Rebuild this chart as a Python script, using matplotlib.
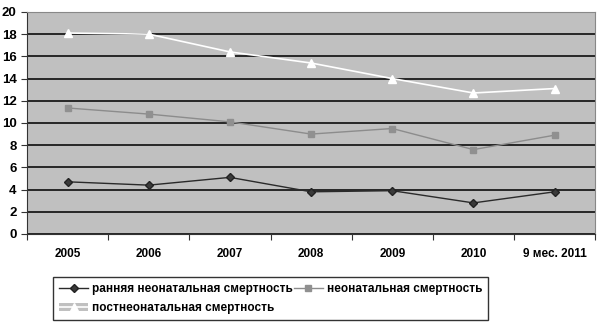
import matplotlib
matplotlib.use("Agg")
import matplotlib.pyplot as plt
from matplotlib.patches import Patch
from matplotlib.lines import Line2D
from matplotlib.legend_handler import HandlerTuple

categories = ["2005", "2006", "2007", "2008", "2009", "2010", "9 мес. 2011"]
early_neonatal = [4.7, 4.4, 5.1, 3.8, 3.9, 2.8, 3.8]
neonatal = [11.35, 10.8, 10.1, 9.0, 9.5, 7.6, 8.9]
postneonatal = [18.1, 18.0, 16.4, 15.4, 14.0, 12.7, 13.1]
yticks = [0, 2, 4, 6, 8, 10, 12, 14, 16, 18, 20]

plt.rcParams['font.family'] = ['Liberation Sans', 'DejaVu Sans']

fig = plt.figure(figsize=(6.0, 3.28), dpi=100)
ax = fig.add_axes([0.045, 0.2866, 0.947, 0.677])
bg = "#c0c0c0"
ax.set_facecolor(bg)

x = list(range(len(categories)))
l1, = ax.plot(x, early_neonatal, color="#2a2a2a", lw=1.0, marker="D", ms=4.5,
              mfc="#3a3a3a", mec="#222222", label="ранняя неонатальная смертность")
l2, = ax.plot(x, neonatal, color="#8c8c8c", lw=1.0, marker="s", ms=5,
              mfc="#909090", mec="#909090", label="неонатальная смертность")
l3, = ax.plot(x, postneonatal, color="white", lw=1.2, marker="^", ms=6,
              mfc="white", mec="white", label="постнеонатальная смертность")

ax.set_xlim(-0.5, len(categories) - 0.5)
ax.set_ylim(0, 20)
ax.set_yticks(yticks)
ax.yaxis.grid(True, color="#1a1a1a", lw=1.3)
ax.set_axisbelow(True)
ax.set_xticks([i - 0.5 for i in range(len(categories) + 1)], minor=False)
ax.set_xticklabels([])
ax.set_xticks(x, minor=True)
ax.set_xticklabels(categories, minor=True, fontsize=8.5, fontweight="bold")
ax.tick_params(axis="x", which="minor", length=0, pad=10)
ax.tick_params(axis="x", which="major", length=4, direction="out", color="#333333")
ax.tick_params(axis="y", length=4, labelsize=9.5, color="#333333")
for lab in ax.get_yticklabels():
    lab.set_fontweight("bold")
for s in ["top", "right"]:
    ax.spines[s].set_color("#888888")
ax.spines["left"].set_color("#333333")
ax.spines["bottom"].set_color("#333333")

h3 = (Patch(facecolor=bg, edgecolor="none"),
      Line2D([], [], color="white", lw=1.2, marker="^", ms=6, mfc="white", mec="white"))
leg = fig.legend([l1, h3, l2],
                 [l1.get_label(), l3.get_label(), l2.get_label()],
                 handler_map={tuple: HandlerTuple(ndivide=1)},
                 ncol=2, loc="upper left",
                 bbox_to_anchor=(53 / 600, 1 - 327 / 328, 435 / 600, 50 / 328),
                 mode="expand", fancybox=False, edgecolor="black",
                 prop={"size": 8.5, "weight": "bold"}, handlelength=2.5,
                 handletextpad=0.3, columnspacing=0.3, borderaxespad=0,
                 labelspacing=0.6, borderpad=0.5)
leg.get_frame().set_linewidth(1.0)

fig.savefig("out.png", dpi=100)
